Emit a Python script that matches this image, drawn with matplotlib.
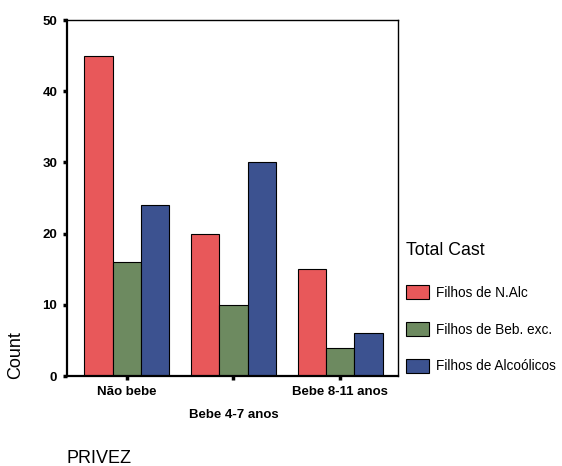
import matplotlib
matplotlib.use("Agg")
import matplotlib.pyplot as plt
import numpy as np

categories = ["Não bebe", "Bebe 4-7 anos", "Bebe 8-11 anos"]
series_names = ["Filhos de N.Alc", "Filhos de Beb. exc.", "Filhos de Alcoólicos"]
filhos_nalc = [45, 20, 15]
filhos_beb_exc = [16, 10, 4]
filhos_alcoolicos = [24, 30, 6]
colors = ["#e8585a", "#6d8a60", "#3c5290"]
yticks = [0, 10, 20, 30, 40, 50]

plt.rcParams['font.family'] = ['Liberation Sans', 'DejaVu Sans']

fig = plt.figure(figsize=(5.62, 4.66), dpi=100)
ax = fig.add_axes([0.119, 0.193, 0.589, 0.764])

x = np.arange(len(categories))
w = 0.265
series = [filhos_nalc, filhos_beb_exc, filhos_alcoolicos]
for i, (vals, name, c) in enumerate(zip(series, series_names, colors)):
    ax.bar(x + (i - 1) * w, vals, width=w, color=c, edgecolor="black",
           linewidth=0.8, label=name)

ax.set_xlim(-0.56, 2.54)
ax.set_ylim(0, 50)
ax.set_yticks(yticks)
ax.set_yticklabels([str(v) for v in yticks], fontsize=9.5, fontweight="bold")
ax.set_xticks(x)
ax.set_xticklabels(categories, fontsize=9.5, fontweight="bold")
for i, lab in enumerate(ax.get_xticklabels()):
    if i % 2 == 1:
        lab.set_y(-0.066)
ax.tick_params(axis="both", direction="out", length=3, width=2.5, pad=4)
for s in ax.spines.values():
    s.set_linewidth(1.0)
ax.spines["left"].set_linewidth(1.6)
ax.spines["bottom"].set_linewidth(1.6)

fig.text(0.027, 0.238, "Count", rotation=90, fontsize=13, ha="center", va="center")
fig.text(0.119, 0.017, "PRIVEZ", fontsize=13, ha="left", va="center")

leg = ax.legend(loc="upper left", bbox_to_anchor=(0.723, 0.481),
                bbox_transform=fig.transFigure, frameon=False,
                title="Total Cast", fontsize=9.8, title_fontsize=12.8,
                handlelength=1.66, handleheight=1.2, labelspacing=1.63,
                handletextpad=0.55, borderpad=0, borderaxespad=0,
                alignment="left")
leg._legend_box.sep = 19

fig.savefig("out.png", dpi=100)
